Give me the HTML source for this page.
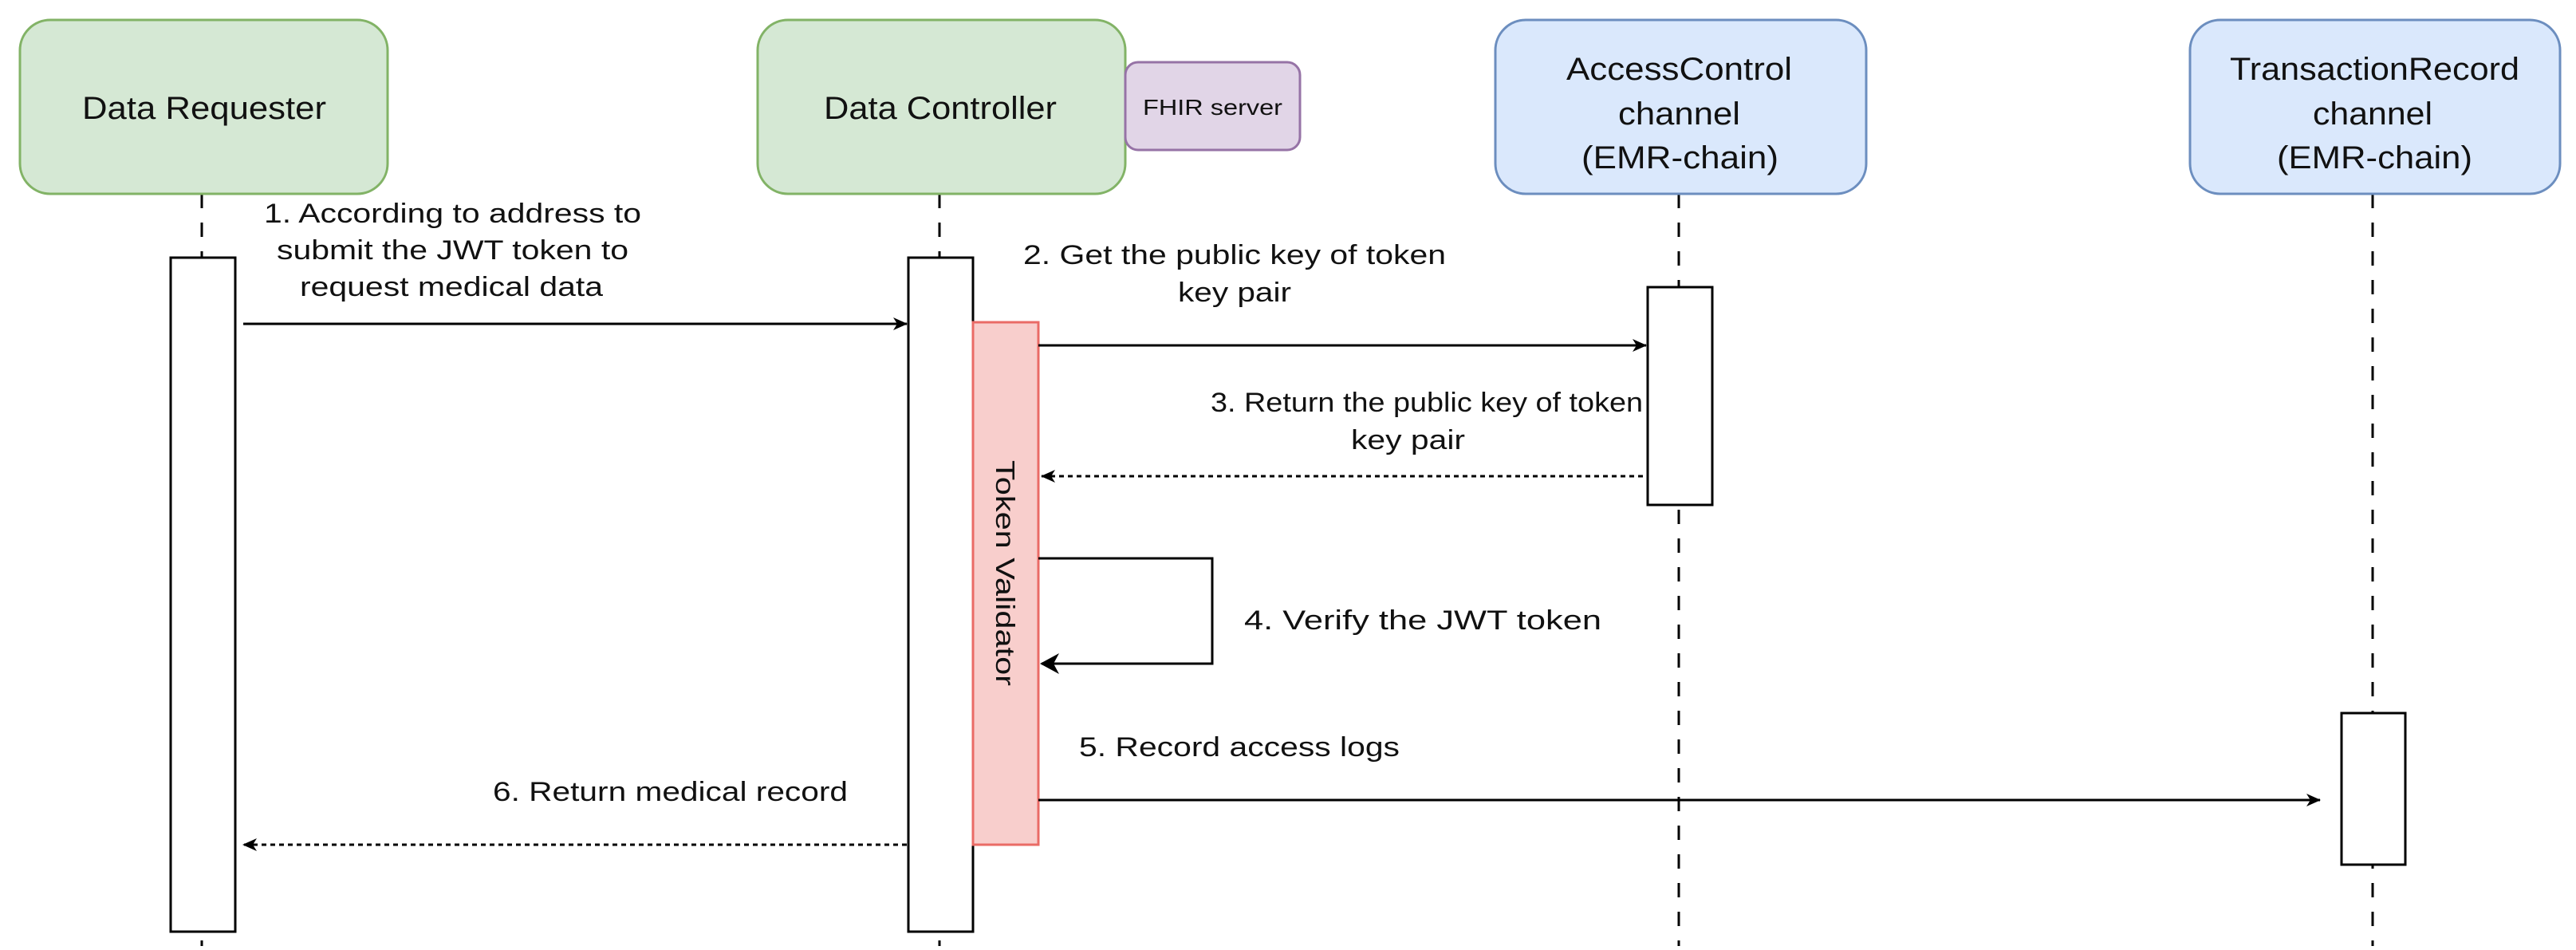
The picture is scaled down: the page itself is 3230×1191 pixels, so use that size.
<!DOCTYPE html>
<html><head><meta charset="utf-8"><style>
html,body{margin:0;padding:0;background:#fff;}
svg text{font-family:"Liberation Sans",sans-serif;fill:#111;}
</style></head><body>
<svg width="3230" height="1186" viewBox="0 0 3230 1186" xmlns="http://www.w3.org/2000/svg">
<defs>
<marker id="a" markerWidth="20" markerHeight="20" refX="17" refY="10" orient="auto" markerUnits="userSpaceOnUse"><path d="M0,2 L18,10 L0,18 L5,10 Z" fill="#000"/></marker>
<marker id="b" markerWidth="26" markerHeight="26" refX="22" refY="13" orient="auto" markerUnits="userSpaceOnUse"><path d="M0,0 L24,13 L0,26 L7,13 Z" fill="#000"/></marker>
</defs>
<g stroke="#000" stroke-width="3" stroke-dasharray="18,18">
<line x1="253" y1="243" x2="253" y2="1186"/>
<line x1="1178" y1="243" x2="1178" y2="1186"/>
<line x1="2105" y1="243" x2="2105" y2="1186"/>
<line x1="2975" y1="243" x2="2975" y2="1186"/>
</g>
<rect x="25" y="25" width="461" height="218" rx="38" fill="#d5e8d4" stroke="#82b366" stroke-width="3"/>
<text x="103" y="149" font-size="40" textLength="306" lengthAdjust="spacingAndGlyphs">Data Requester</text>
<rect x="950" y="25" width="461" height="218" rx="38" fill="#d5e8d4" stroke="#82b366" stroke-width="3"/>
<text x="1033" y="149" font-size="40" textLength="292" lengthAdjust="spacingAndGlyphs">Data Controller</text>
<rect x="1411" y="78" width="219" height="110" rx="16" fill="#e1d5e7" stroke="#9673a6" stroke-width="3"/>
<text x="1433" y="144" font-size="28" textLength="175" lengthAdjust="spacingAndGlyphs">FHIR server</text>
<rect x="1875" y="25" width="465" height="218" rx="38" fill="#dae8fc" stroke="#6c8ebf" stroke-width="3"/>
<text x="1964" y="100" font-size="40" textLength="283" lengthAdjust="spacingAndGlyphs">AccessControl</text>
<text x="2029" y="156" font-size="40" textLength="153" lengthAdjust="spacingAndGlyphs">channel</text>
<text x="1983" y="211" font-size="40" textLength="247" lengthAdjust="spacingAndGlyphs">(EMR-chain)</text>
<rect x="2746" y="25" width="464" height="218" rx="38" fill="#dae8fc" stroke="#6c8ebf" stroke-width="3"/>
<text x="2796" y="100" font-size="40" textLength="363" lengthAdjust="spacingAndGlyphs">TransactionRecord</text>
<text x="2900" y="156" font-size="40" textLength="150" lengthAdjust="spacingAndGlyphs">channel</text>
<text x="2855" y="211" font-size="40" textLength="245" lengthAdjust="spacingAndGlyphs">(EMR-chain)</text>
<rect x="214" y="323" width="81" height="845" fill="#fff" stroke="#000" stroke-width="3"/>
<rect x="1139" y="323" width="81" height="845" fill="#fff" stroke="#000" stroke-width="3"/>
<rect x="1220" y="404" width="82" height="655" fill="#f8cecc" stroke="#ea6b66" stroke-width="3"/>
<text transform="translate(1249,577) rotate(90)" font-size="33" textLength="283" lengthAdjust="spacingAndGlyphs">Token Validator</text>
<rect x="2066" y="360" width="81" height="273" fill="#fff" stroke="#000" stroke-width="3"/>
<rect x="2936" y="894" width="80" height="190" fill="#fff" stroke="#000" stroke-width="3"/>
<g stroke="#000" stroke-width="3" fill="none">
<line x1="305" y1="406" x2="1137" y2="406" marker-end="url(#a)"/>
<line x1="1302" y1="433" x2="2064" y2="433" marker-end="url(#a)"/>
<line x1="2060" y1="597" x2="1306" y2="597" stroke-dasharray="6,5" marker-end="url(#a)"/>
<polyline points="1302,700 1520,700 1520,832 1306,832" marker-end="url(#b)"/>
<line x1="1302" y1="1003" x2="2909" y2="1003" marker-end="url(#a)"/>
<line x1="1137" y1="1059" x2="305" y2="1059" stroke-dasharray="6,5" marker-end="url(#a)"/>
</g>
<g font-size="34">
<text x="331" y="279" textLength="473" lengthAdjust="spacingAndGlyphs">1. According to address to</text>
<text x="347" y="325" textLength="441" lengthAdjust="spacingAndGlyphs">submit the JWT token to</text>
<text x="376" y="371" textLength="380" lengthAdjust="spacingAndGlyphs">request medical data</text>
<text x="1283" y="331" textLength="530" lengthAdjust="spacingAndGlyphs">2. Get the public key of token</text>
<text x="1477" y="378" textLength="142" lengthAdjust="spacingAndGlyphs">key pair</text>
<text x="1518" y="516" textLength="542" lengthAdjust="spacingAndGlyphs">3. Return the public key of token</text>
<text x="1694" y="563" textLength="143" lengthAdjust="spacingAndGlyphs">key pair</text>
<text x="1560" y="789" textLength="448" lengthAdjust="spacingAndGlyphs">4. Verify the JWT token</text>
<text x="1353" y="948" textLength="402" lengthAdjust="spacingAndGlyphs">5. Record access logs</text>
<text x="618" y="1004" textLength="445" lengthAdjust="spacingAndGlyphs">6. Return medical record</text>
</g>
</svg>
</body></html>
